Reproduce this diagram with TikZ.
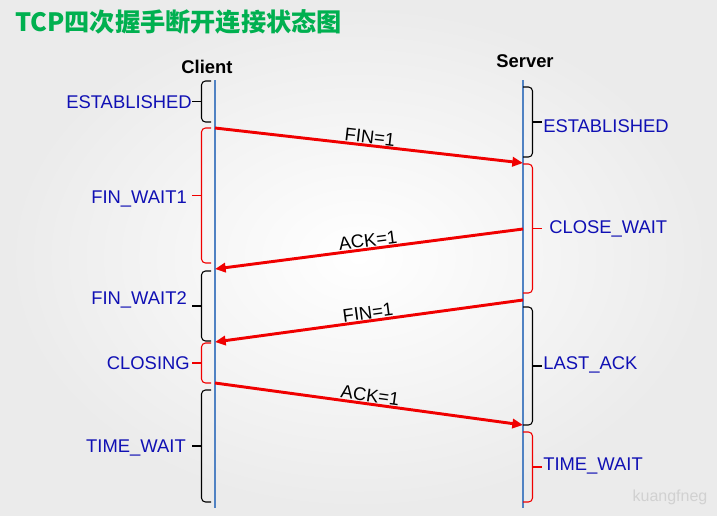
\documentclass[tikz,border=0pt]{standalone}
\usepackage{fontspec}
\setmainfont{Liberation Sans}
\newfontfamily\cjk{Noto Sans CJK SC}
\usepackage{xcolor}
\usetikzlibrary{arrows.meta}
\definecolor{titlegreen}{RGB}{0,176,80}
\definecolor{stateblue}{RGB}{16,16,180}
\definecolor{lifeblue}{RGB}{80,130,195}
\definecolor{msgred}{RGB}{240,0,0}
\tikzset{%
    lifeline/.style={lifeblue,line width=1pt},
    msg/.style={-{Triangle[length=8pt,width=7pt]},msgred,line width=2.2pt},
    msglabel/.style={sloped,above,inner sep=0.5pt,black,font=\fontsize{13.8}{16}\selectfont},
}
\tikzstyle{party}=[inner sep=0pt,font=\fontsize{13.8}{16}\selectfont\bfseries]
\tikzstyle{state}=[inner sep=0pt,text depth=0pt,stateblue,font=\fontsize{13.8}{16}\selectfont]
\tikzstyle{bracel}=[line width=0.8pt]
% brace: colour, side (-1 left, 1 right), x of the hooks, top, bottom
\newcommand{\stbrace}[5]{%
    \draw[bracel,#1,rounded corners=3pt] (#3,#4) -- ({#3+(#2)*9.5},#4) -- ({#3+(#2)*9.5},#5) -- (#3,#5);
    \draw[bracel,#1] ({#3+(#2)*9.5},{(#4+#5)/2}) -- ({#3+(#2)*19},{(#4+#5)/2});
}

\begin{document}
\begin{tikzpicture}[x=0.75pt,y=-0.75pt]
    \useasboundingbox (0,0) rectangle (717,515);
    \shade[inner color=white,outer color=black!8] (0,0) rectangle (717,515);
    \node[anchor=west,inner sep=0pt,titlegreen,font=\cjk\fontsize{18.9}{20}\selectfont\bfseries] (title) at (15,22) {TCP四次握手断开连接状态图};
    \node[party] (client) at (207,67) {Client};
    \node[party] (server) at (525,61) {Server};
    % lifelines
    \coordinate (cT) at (215,80);
    \coordinate (cB) at (215,508);
    \coordinate (sT) at (523,80);
    \coordinate (sB) at (523,508);
    \draw[lifeline] (cT) -- (cB);
    \draw[lifeline] (sT) -- (sB);
    % client states
    \stbrace{black}{-1}{211}{81}{122}
    \stbrace{msgred}{-1}{211}{128}{263}
    \stbrace{black}{-1}{211}{271}{341}
    \stbrace{msgred}{-1}{211}{343}{383}
    \stbrace{black}{-1}{211}{390}{502}
    \node[state,anchor=east] (cEst) at (192,102) {ESTABLISHED};
    \node[state,anchor=east] (cFw1) at (187,197) {FIN\_WAIT1};
    \node[state,anchor=east] (cFw2) at (187,298) {FIN\_WAIT2};
    \node[state,anchor=east] (cClosing) at (190,363) {CLOSING};
    \node[state,anchor=east] (cTw) at (186,446) {TIME\_WAIT};
    % server states
    \stbrace{black}{1}{523}{87}{157}
    \stbrace{msgred}{1}{523}{164}{293}
    \stbrace{black}{1}{523}{307}{425}
    \stbrace{msgred}{1}{523}{432}{502}
    \node[state,anchor=west] (sEst) at (543,126) {ESTABLISHED};
    \node[state,anchor=west] (sCw) at (549,227) {CLOSE\_WAIT};
    \node[state,anchor=west] (sLa) at (543,363) {LAST\_ACK};
    \node[state,anchor=west] (sTw) at (543,464) {TIME\_WAIT};
    % segments
    \coordinate (m1a) at (215,128);
    \coordinate (m1b) at (523,163);
    \coordinate (m2a) at (523,229);
    \coordinate (m2b) at (215,269);
    \coordinate (m3a) at (523,300);
    \coordinate (m3b) at (215,342);
    \coordinate (m4a) at (215,383);
    \coordinate (m4b) at (523,425);
    \draw[msg] (m1a) -- node[msglabel] {FIN=1} (m1b);
    \draw[msg] (m2a) -- node[msglabel] {ACK=1} (m2b);
    \draw[msg] (m3a) -- node[msglabel] {FIN=1} (m3b);
    \draw[msg] (m4a) -- node[msglabel] {ACK=1} (m4b);
    \node[white!82!black,font=\fontsize{12}{14}\selectfont] (mark) at (670,497) {kuangfneg};
\end{tikzpicture}
\end{document}
